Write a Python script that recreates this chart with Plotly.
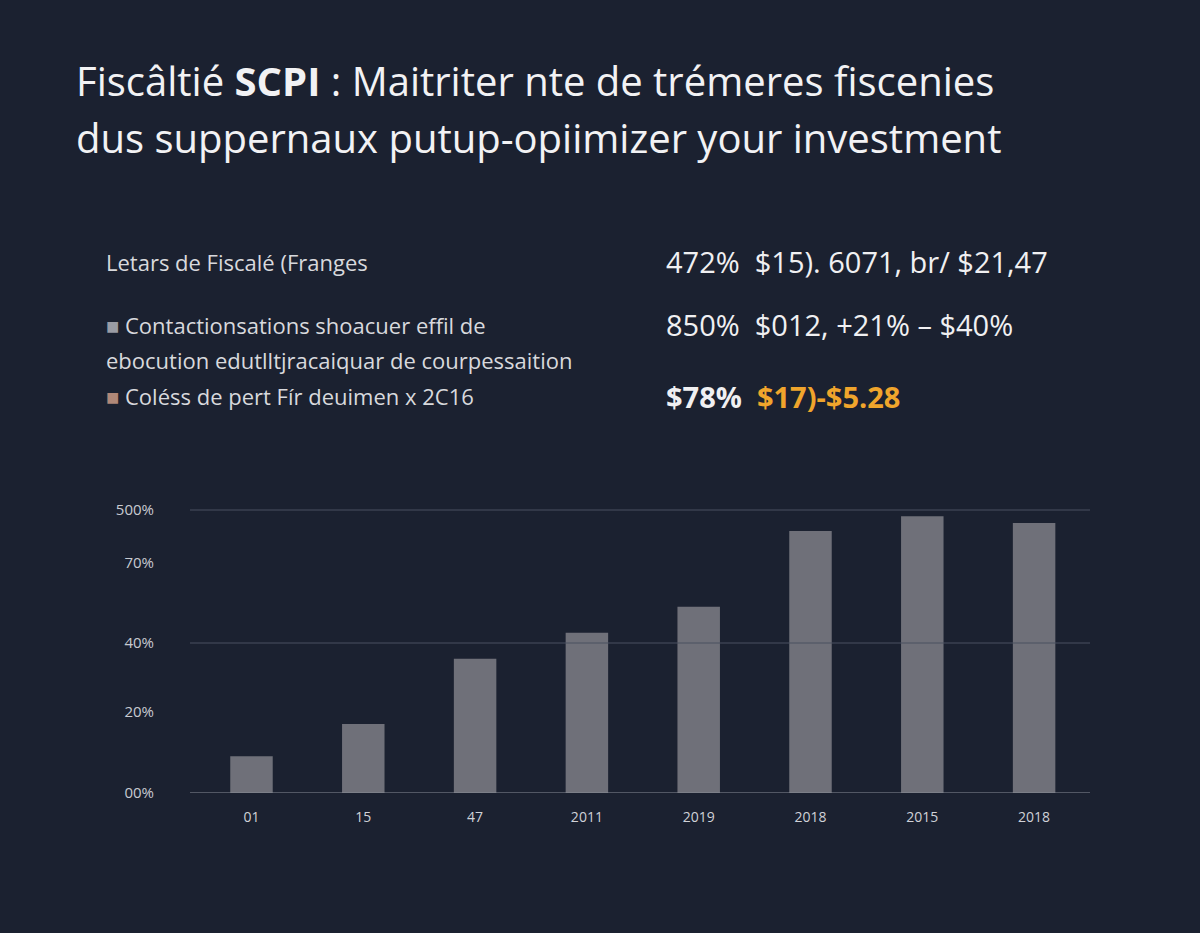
import plotly.graph_objects as go

W, H = 1200, 933
BG = "#1b2130"

# chart data (axis units: 500 = top gridline)
positions = [0, 1, 2, 3, 4, 5, 6, 7]
x_labels = ["01", "15", "47", "2011", "2019", "2018", "2015", "2018"]
values = [65, 122, 237, 283, 329, 463, 489, 477]
tick_vals = [0, 143, 265, 406, 500]
tick_text = ["00%", "20%", "40%", "70%", "500%"]

title_lines = ["Fiscâltié <b>SCPI</b> : Maitriter nte de trémeres fiscenies",
               "dus suppernaux putup-opiimizer your investment"]
rows_left = ["Letars de Fiscalé (Franges",
             "<span style='color:#9a9ca4'>■</span> Contactionsations shoacuer effil de",
             "ebocution edutlltjracaiquar de courpessaition",
             "<span style='color:#b08878'>■</span> Coléss de pert Fír deuimen x 2C16"]
rows_right = ["472%  $15). 6071, br/ $21,47",
              "850%  $012, +21% – $40%",
              "<b>$78%</b>  <b><span style='color:#f0a52c'>$17)-$5.28</span></b>"]

L, R, T, B = 190, 110, 493, 140

def px(x):
    return x / W

def py(y):
    return 1 - y / H

fig = go.Figure(go.Bar(x=positions, y=values, marker_color="#6f7079",
                       marker_line_width=0, width=0.38))

fig.update_layout(
    width=W, height=H, paper_bgcolor=BG, plot_bgcolor=BG,
    margin=dict(l=L, r=R, t=T, b=B), showlegend=False,
    font=dict(family="Open Sans, sans-serif", color="#e8e8ea"),
    xaxis=dict(range=[-0.55, 7.5], tickvals=positions, ticktext=x_labels,
               showgrid=False, zeroline=False, showline=False,
               ticklabelstandoff=14,
               tickfont=dict(size=14, color="#d0d2d8")),
    yaxis=dict(range=[0, 530], tickvals=tick_vals, ticktext=tick_text,
               showgrid=False, zeroline=False, ticks="", ticklabelstandoff=35,
               tickfont=dict(size=15, color="#c8cad0")),
)

for yv, col in [(500, "#4a5060"), (265, "#4a5060"), (0, "#8a8e98")]:
    fig.add_shape(type="line", xref="paper", yref="y", x0=0, x1=1,
                  y0=yv, y1=yv, line=dict(color=col, width=1.2))

ann = []
for i, t in enumerate(title_lines):
    ann.append(dict(text=t, x=px(74), y=py(80 + i * 57), font=dict(size=40, color="#f2f2f4")))
for t, y in zip(rows_left, [262, 325, 360, 396]):
    ann.append(dict(text=t, x=px(104), y=py(y), font=dict(size=22, color="#d8d9dd")))
for t, y in zip(rows_right, [262, 325, 396]):
    ann.append(dict(text=t, x=px(664), y=py(y), font=dict(size=29, color="#f0f0f2")))
for a in ann:
    a.update(xref="paper", yref="paper", xanchor="left", yanchor="middle",
             showarrow=False)
    fig.add_annotation(**a)

# paper coords are relative to plot area; convert
for a in fig.layout.annotations:
    a.x = (a.x * W - L) / (W - L - R)
    a.y = (a.y * H - B) / (H - T - B)

fig.write_html("out.html", config={"displayModeBar": False},
               post_script="document.body.style.margin='0';")
